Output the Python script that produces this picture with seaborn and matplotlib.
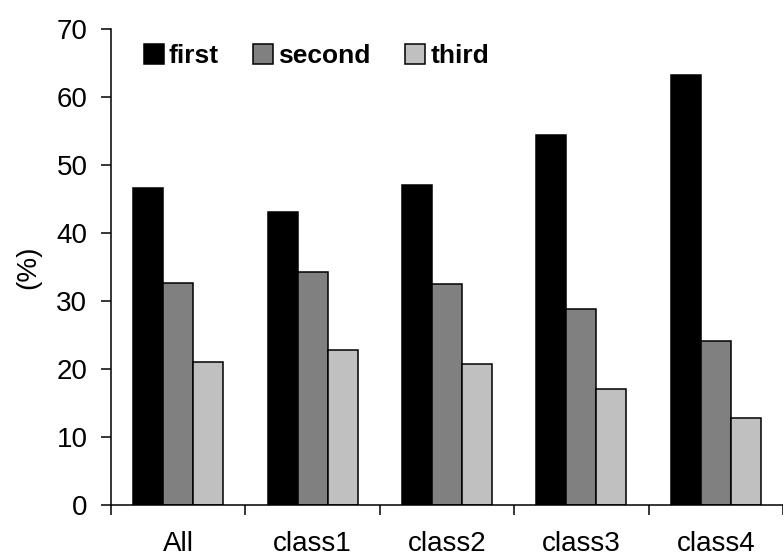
import matplotlib
matplotlib.use("Agg")
import matplotlib.pyplot as plt
import seaborn as sns
import pandas as pd
from matplotlib.patches import Patch

categories = ["All", "class1", "class2", "class3", "class4"]
series_names = ["first", "second", "third"]
first = [46.6, 43.1, 47.0, 54.4, 63.2]
second = [32.6, 34.3, 32.5, 28.8, 24.1]
third = [21.0, 22.8, 20.7, 17.0, 12.8]
colors = {"first": "#000000", "second": "#808080", "third": "#c0c0c0"}
y_ticks = [0, 10, 20, 30, 40, 50, 60, 70]

rows = []
for name, vals in zip(series_names, [first, second, third]):
    for c, v in zip(categories, vals):
        rows.append({"category": c, "series": name, "value": v})
df = pd.DataFrame(rows)

sns.set_style("ticks")
plt.rcParams["font.family"] = ["Liberation Sans", "DejaVu Sans"]
plt.rcParams["text.color"] = "black"
plt.rcParams["axes.labelcolor"] = "black"
plt.rcParams["xtick.color"] = "black"
plt.rcParams["ytick.color"] = "black"

fig = plt.figure(figsize=(7.83, 5.6), dpi=100)
ax = fig.add_axes([111 / 783, 55 / 560, 672 / 783, 476 / 560])

sns.barplot(data=df, x="category", y="value", hue="series", order=categories,
            hue_order=series_names, palette=colors, width=0.67,
            edgecolor="black", linewidth=1.1, ax=ax, legend=False, saturation=1)

ax.set_ylim(0, 70)
ax.set_xlim(-0.5, 4.42)
ax.set_yticks(y_ticks)
ax.set_yticklabels([str(t) for t in y_ticks], fontsize=20)
ax.set_xticks(range(len(categories)))
ax.set_xticklabels(categories, fontsize=20)
ax.set_xticks([i - 0.5 for i in range(len(categories) + 1)], minor=True)
ax.tick_params(axis="x", which="major", length=0, pad=19)
ax.tick_params(axis="x", which="minor", length=7, width=1.1, direction="out", color="black")
ax.tick_params(axis="y", length=7, width=1.1, direction="out", pad=10, color="black")
ax.set_xlabel("")
ax.set_ylabel("(%)", fontsize=20, labelpad=11)

sns.despine(ax=ax)
for s in ["left", "bottom"]:
    ax.spines[s].set_linewidth(1.1)
    ax.spines[s].set_color("black")

handles = [Patch(facecolor=colors[n], edgecolor="black", linewidth=1.1) for n in series_names]
ax.legend(handles, series_names, loc="upper left", bbox_to_anchor=(0.049, 0.968),
          ncol=3, frameon=False, borderpad=0, borderaxespad=0,
          handlelength=0.75, handleheight=0.75, handletextpad=0.2,
          columnspacing=1.3, prop={"weight": "bold", "size": 19})

fig.savefig("out.png", dpi=100)
